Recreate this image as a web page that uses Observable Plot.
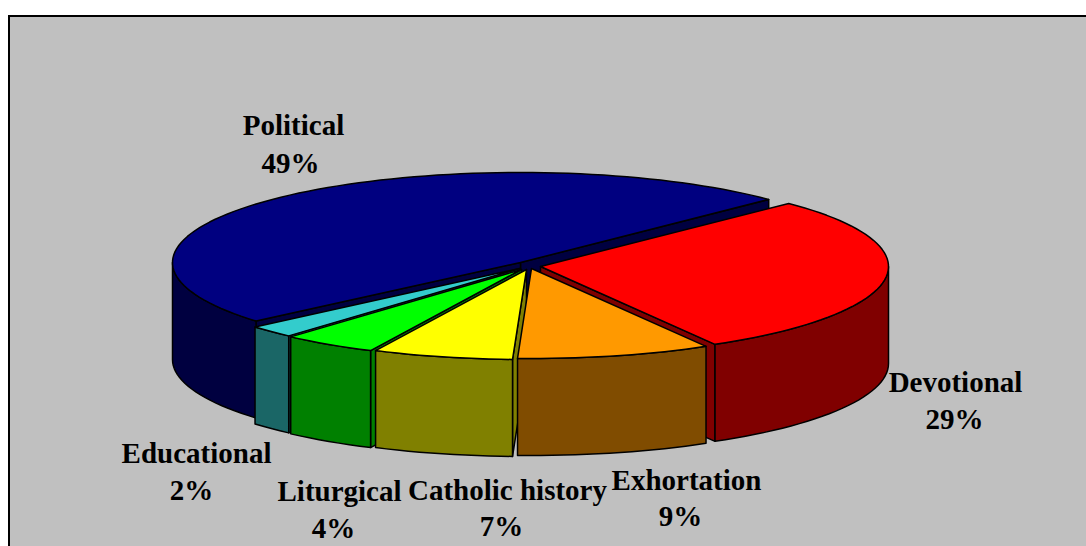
<!DOCTYPE html>
<html><head><meta charset="utf-8">
<script src="https://cdn.jsdelivr.net/npm/d3@7"></script>
<script src="https://cdn.jsdelivr.net/npm/@observablehq/plot@0.6"></script>
<style>
html,body{margin:0;padding:0;background:#fff;overflow:hidden}
#frame{position:absolute;left:8px;top:15px;width:1078px;height:531px;box-sizing:border-box;background:#c0c0c0;border-left:2px solid #000;border-top:2px solid #000}
#chart{position:absolute;left:0;top:0}
</style></head><body>
<div id="frame"></div><div id="chart"></div>
<script>
// Data: share of each category, in pie order clockwise from the start angle
const categories = ["Devotional","Exhortation","Catholic history","Liturgical","Educational","Political"];
const shares = [29, 9, 6.5, 4.4, 2.2, 48.9];
const percentLabels = ["29%","9%","7%","4%","2%","49%"];

// Styles
const topColors  = ["#ff0000","#ff9900","#ffff00","#00ff00","#33cccc","#000080"];
const wallColors = ["#800000","#804c00","#808000","#008000","#1a6666","#000040"];

// Layout (pixels)
const W = 1086, H = 546, originX = 520, originY = 262, radiusPx = 348;
const tilt = 90 / 348, depth = 97 / 348, startAngle = 45.5;
const offsetX = [20, 11, 6, 1, -1, 0];
const offsetY = [4, 6, 7, 7, 6, 0];
const nameX = [955, 686, 507, 339, 196, 293];
const nameY = [382, 480, 490, 491, 453, 125];
const percentX = [954, 680, 501, 333, 191, 290];
const percentY = [419, 516, 526, 528, 490, 163];
const drawOrder = ["Political","Devotional","Educational","Liturgical","Catholic history","Exhortation"];

const total = d3.sum(shares);
let acc = startAngle;
const slices = categories.map((name, i) => {
  const a0 = acc, a1 = acc + shares[i] / total * 360;
  acc = a1;
  return {name, i, a0, a1, ox: offsetX[i] / radiusPx, oy: offsetY[i] / radiusPx};
});

const rad = d => d * Math.PI / 180;
const rim = (s, a, down = 0) => ({x: s.ox + Math.sin(rad(a)), y: s.oy - Math.cos(rad(a)) * tilt + down});
const centre = (s, down = 0) => ({x: s.ox, y: s.oy + down});
const arc = (s, a0, a1, down = 0) => {
  const n = Math.max(2, Math.ceil(Math.abs(a1 - a0) / 2));
  return d3.range(n + 1).map(k => rim(s, a0 + (a1 - a0) * k / n, down));
};
const closed = p => [...p, p[0]];

const sliceFaces = (s) => {
  const faces = [];
  const wall = wallColors[s.i], top = topColors[s.i];
  const cut = a => closed([centre(s), rim(s, a), rim(s, a, depth), centre(s, depth)]);
  // A cut face shows when it turns towards the viewer
  if (Math.sin(rad(s.a1)) > 0) faces.push({pts: cut(s.a1), fill: wall});
  if (Math.sin(rad(s.a0)) < 0) faces.push({pts: cut(s.a0), fill: wall});
  // Outer wall: the part of the rim on the near side (90° to 270°)
  const lo = Math.max(s.a0, 90), hi = Math.min(s.a1, 270);
  if (hi > lo) faces.push({pts: closed([...arc(s, lo, hi), ...arc(s, hi, lo, depth)]), fill: wall});
  // Top face
  faces.push({pts: closed([centre(s), ...arc(s, s.a0, s.a1)]), fill: top});
  return faces;
};

const marks = drawOrder.flatMap(name => {
  const s = slices.find(d => d.name === name);
  return sliceFaces(s).map(f => Plot.line(f.pts, {
    x: "x", y: "y", fill: f.fill, stroke: "#000", strokeWidth: 1.5, strokeLinejoin: "round", curve: "linear"
  }));
});

const toX = px => (px - originX) / radiusPx;
const toY = px => (px - originY) / radiusPx;
const nameLabels = categories.map((c, i) => ({text: c, x: toX(nameX[i]), y: toY(nameY[i])}));
const percentLabelRows = percentLabels.map((c, i) => ({text: c, x: toX(percentX[i]), y: toY(percentY[i])}));
const textStyle = {
  x: "x", y: "y", text: "text", textAnchor: "middle", lineAnchor: "middle",
  fontFamily: "'Liberation Serif','Times New Roman',serif", fontWeight: "bold", fontSize: 29, fill: "#000"
};

const chart = Plot.plot({
  width: W, height: H,
  marginTop: 0, marginRight: 0, marginBottom: 0, marginLeft: 0,
  style: {background: "transparent"},
  x: {domain: [toX(0), toX(W)], range: [0, W], axis: null},
  y: {domain: [toY(0), toY(H)], range: [0, H], axis: null},
  marks: [
    ...marks,
    Plot.text(nameLabels, textStyle),
    Plot.text(percentLabelRows, textStyle)
  ]
});
document.getElementById("chart").append(chart);
</script>
</body></html>
